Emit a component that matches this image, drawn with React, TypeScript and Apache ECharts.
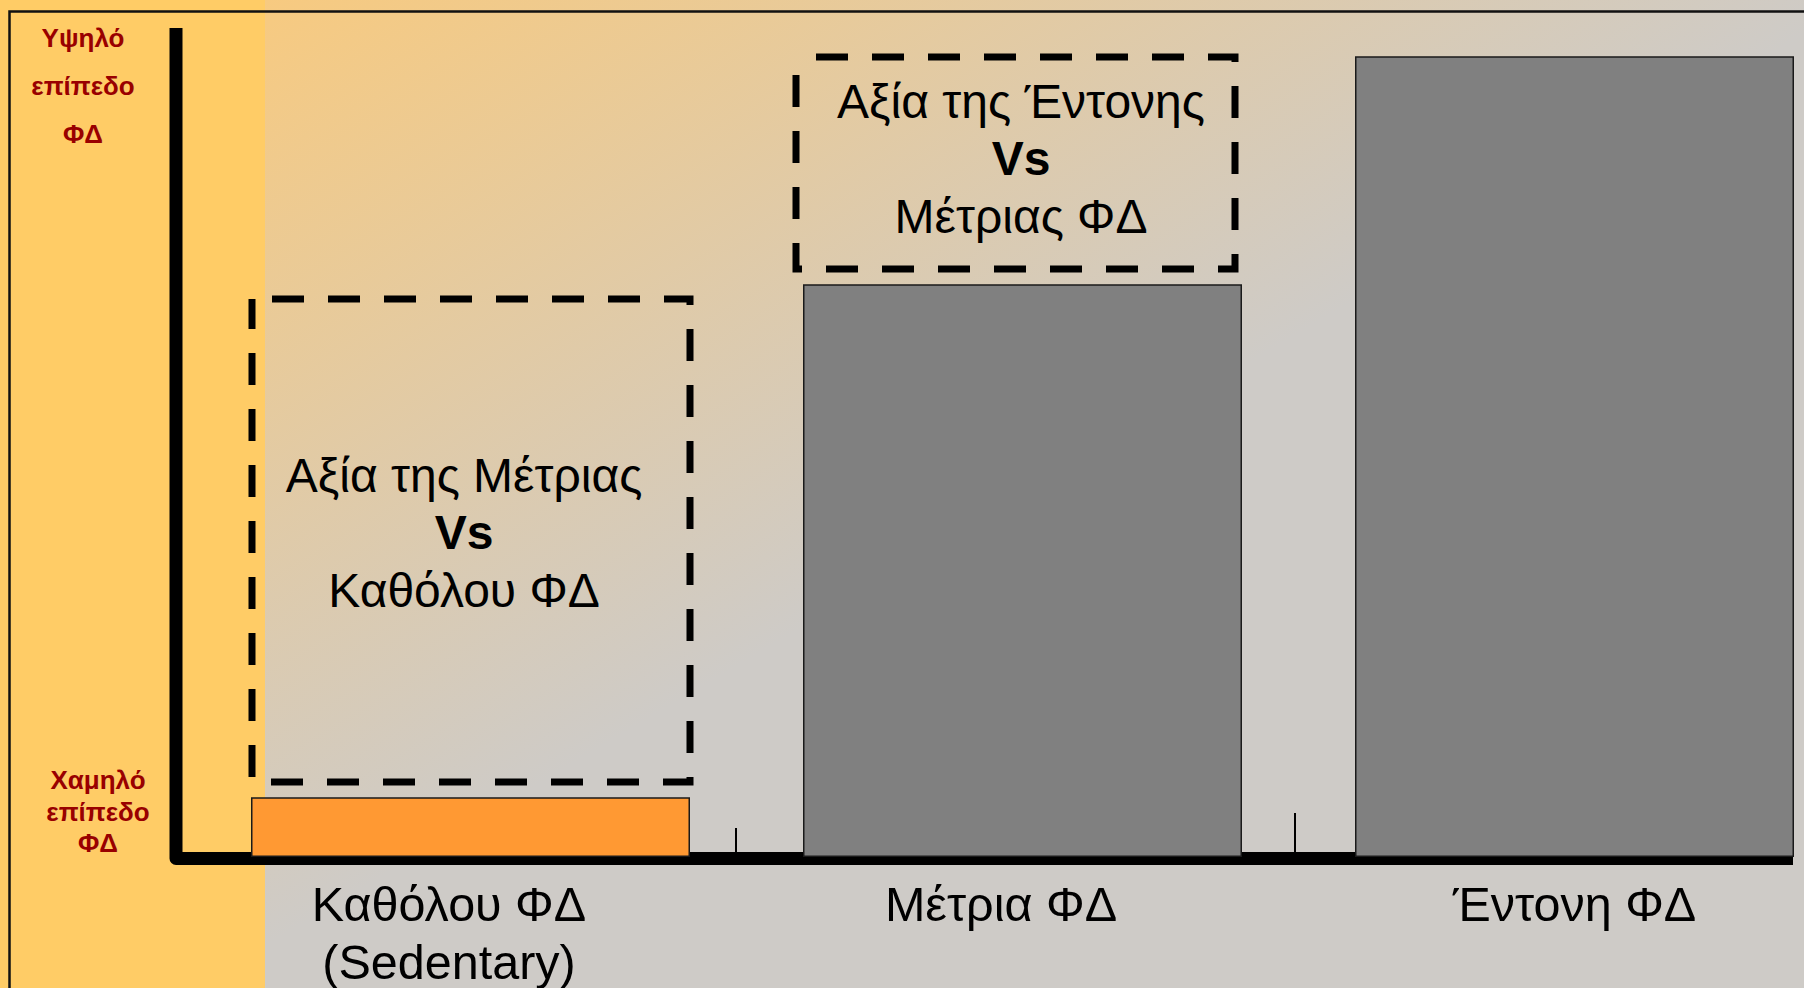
import React, { useEffect, useRef } from 'react';
import * as echarts from 'echarts';

// ---- data ----
const categories = ['Καθόλου ΦΔ\n(Sedentary)', 'Μέτρια ΦΔ', 'Έντονη ΦΔ'];
const levels = [7.2, 69.1, 96.6];
const barColors = ['#FF9933', '#808080', '#808080'];
const yTopLabel = ['Υψηλό', 'επίπεδο', 'ΦΔ'];
const yBottomLabel = ['Χαμηλό', 'επίπεδο', 'ΦΔ'];
const box1Lines = ['Αξία της Μέτριας', 'Vs', 'Καθόλου ΦΔ'];
const box2Lines = ['Αξία της Έντονης', 'Vs', 'Μέτριας ΦΔ'];

const FONT = '"Liberation Sans", Arial, sans-serif';

export default function App() {
  const ref = useRef<HTMLDivElement>(null);

  useEffect(() => {
    if (!ref.current) return;
    const chart = echarts.init(ref.current, null, { renderer: 'svg' });

    const labelPad = [43, 43, 0];
    const rich: any = {};
    categories.forEach((_, i) => {
      rich['c' + i] = {
        fontFamily: FONT,
        fontSize: 48.5,
        lineHeight: 58,
        color: '#000',
        padding: [0, labelPad[i], 0, 0],
      };
    });

    const textLines = (lines: string[], x: number, y0: number, step: number, size: number, color: string, boldAll: boolean) =>
      lines.map((t, i) => ({
        type: 'text',
        x,
        y: y0 + i * step,
        z: 5,
        style: {
          text: t,
          fill: color,
          fontFamily: FONT,
          fontSize: size,
          fontWeight: boldAll || t === 'Vs' ? 'bold' : 'normal',
          align: 'center',
          verticalAlign: 'middle',
        },
      }));

    const dashedBox = (x: number, y: number, w: number, h: number) => ({
      type: 'rect',
      z: 4,
      shape: { x, y, width: w, height: h },
      style: { fill: 'none', stroke: '#000', lineWidth: 7, lineDash: [32, 24], lineDashOffset: 36 },
    });

    const option: any = {
      animation: false,
      backgroundColor: '#FFCC66',
      grid: { left: 194.5, top: 28, width: 1656, height: 829 },
      xAxis: {
        type: 'category',
        data: categories,
        axisLine: { show: false },
        axisTick: { show: false },
        splitLine: { show: false },
        axisLabel: {
          interval: 0,
          margin: 18,
          formatter: (value: string, index: number) =>
            value.split('\n').map((s) => `{c${index}|${s}}`).join('\n'),
          rich,
        },
      },
      yAxis: { type: 'value', min: 0, max: 100, show: false },
      series: [
        {
          type: 'bar',
          data: levels.map((v, i) => ({ value: v, itemStyle: { color: barColors[i] } })),
          barWidth: 439,
          z: 3,
          itemStyle: { borderColor: '#1a1a1a', borderWidth: 1.5 },
        },
      ],
      graphic: {
        elements: [
          {
            type: 'rect',
            z: 0,
            shape: { x: 265, y: 0, width: 1600, height: 988 },
            style: {
              fill: new echarts.graphic.LinearGradient(265, 0, 680, 700, [
                { offset: 0, color: '#F7CA80' },
                { offset: 1, color: '#CECBC7' },
              ], true),
            },
          },
          {
            type: 'rect',
            z: 1,
            shape: { x: 9.5, y: 11.5, width: 1900, height: 1050 },
            style: { fill: 'none', stroke: '#111', lineWidth: 2.5 },
          },
          {
            type: 'polyline',
            z: 1,
            shape: { points: [[176, 28], [176, 858.5], [1793, 858.5]] },
            style: { fill: null, stroke: '#000', lineWidth: 13, lineJoin: 'round', lineCap: 'butt' },
          },
          {
            type: 'line',
            z: 1,
            shape: { x1: 736, y1: 828, x2: 736, y2: 853 },
            style: { stroke: '#000', lineWidth: 2 },
          },
          {
            type: 'line',
            z: 1,
            shape: { x1: 1295, y1: 813, x2: 1295, y2: 853 },
            style: { stroke: '#000', lineWidth: 2 },
          },
          dashedBox(252, 299, 438, 483),
          dashedBox(796, 57, 439, 212),
          ...textLines(box1Lines, 464, 475, 57.5, 48, '#000', false),
          ...textLines(box2Lines, 1021, 101, 57.5, 48, '#000', false),
          ...textLines(yTopLabel, 83, 38, 48, 26, '#990000', true),
          ...textLines(yBottomLabel, 98, 780, 31.5, 26, '#990000', true),
        ],
      },
    };

    chart.setOption(option);
    return () => chart.dispose();
  }, []);

  return (
    <div
      ref={ref}
      style={{ position: 'fixed', left: 0, top: 0, width: 1852, height: 988 }}
    />
  );
}
